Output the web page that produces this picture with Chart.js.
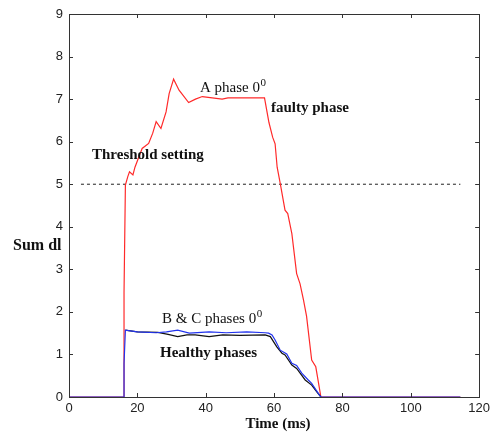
<!DOCTYPE html>
<html>
<head>
<meta charset="utf-8">
<script src="https://cdn.jsdelivr.net/npm/chart.js@4"></script>
<style>
  html, body { margin: 0; padding: 0; background: #fff; }
  #wrap { width: 494px; height: 434px; }
</style>
</head>
<body>
<div id="wrap"><canvas id="c" width="494" height="434"></canvas></div>
<script>
// ---- Data ----
const xTicks = [0, 20, 40, 60, 80, 100, 120];
const yTicks = [0, 1, 2, 3, 4, 5, 6, 7, 8, 9];

// A phase (faulty)
const timeA = [0, 16.1, 16.1, 16.5, 17.2, 17.7, 18.7, 19.3, 20.1, 21.4, 23.3, 24.5, 25.5, 26.9, 28.4, 29.3, 30.6, 32.2, 35.0, 37.0, 39.0, 41.9, 44.8, 46.5, 57.2, 58.5, 59.6, 60.3, 60.9, 61.8, 63.2, 64.0, 65.2, 66.6, 67.6, 68.6, 69.5, 71.0, 72.2, 73.7, 114.5];
const valA  = [0, 0, 2.45, 4.98, 5.18, 5.29, 5.22, 5.40, 5.57, 5.84, 5.96, 6.20, 6.47, 6.31, 6.70, 7.13, 7.47, 7.21, 6.92, 7.00, 7.06, 7.03, 7.00, 7.03, 7.03, 6.45, 6.10, 5.95, 5.40, 5.02, 4.39, 4.31, 3.84, 2.90, 2.66, 2.28, 1.90, 0.87, 0.71, 0, 0];

// B phase (healthy, blue)
const timeB = [0, 16.1, 16.1, 16.5, 20.0, 25.5, 28.5, 31.8, 35.2, 41.0, 46.0, 52.0, 57.4, 58.4, 59.4, 60.3, 61.8, 63.7, 65.2, 66.6, 68.1, 70.0, 71.0, 72.5, 73.7, 114.5];
const valB  = [0, 0, 0.78, 1.57, 1.53, 1.51, 1.53, 1.57, 1.50, 1.53, 1.51, 1.53, 1.51, 1.50, 1.46, 1.34, 1.10, 1.01, 0.79, 0.74, 0.56, 0.40, 0.32, 0.14, 0, 0];

// C phase (healthy, black)
const timeC = [16.5, 20.0, 26.0, 29.0, 31.8, 34.5, 36.9, 41.0, 45.0, 50.0, 57.4, 58.9, 60.8, 62.3, 63.2, 65.2, 66.6, 69.1, 71.0, 72.5, 73.7];
const valC  = [1.57, 1.53, 1.52, 1.47, 1.42, 1.46, 1.46, 1.42, 1.46, 1.45, 1.46, 1.42, 1.18, 1.03, 0.99, 0.75, 0.67, 0.40, 0.28, 0.12, 0];

// Threshold setting
const thresholdTime = [3.5, 114.5];
const thresholdVal  = [5, 5];

const toPts = (xs, ys) => xs.map((x, i) => ({ x: x, y: ys[i] }));

const SERIF = '"Liberation Serif", "Times New Roman", serif';
const SANS = '"Liberation Sans", Arial, sans-serif';

const boxPlugin = {
  id: 'boxPlugin',
  afterDraw(chart) {
    const ctx = chart.ctx;
    const a = chart.chartArea;
    const xs = chart.scales.x, ys = chart.scales.y;
    ctx.save();
    ctx.strokeStyle = '#333';
    ctx.lineWidth = 1;
    ctx.strokeRect(Math.round(a.left) + 0.5, Math.round(a.top) + 0.5, Math.round(a.right - a.left), Math.round(a.bottom - a.top));
    const tl = 4;
    ctx.beginPath();
    xTicks.forEach(v => {
      const px = Math.round(xs.getPixelForValue(v)) + 0.5;
      ctx.moveTo(px, a.bottom); ctx.lineTo(px, a.bottom - tl);
      ctx.moveTo(px, a.top); ctx.lineTo(px, a.top + tl);
    });
    yTicks.forEach(v => {
      const py = Math.round(ys.getPixelForValue(v)) + 0.5;
      ctx.moveTo(a.left, py); ctx.lineTo(a.left + tl, py);
      ctx.moveTo(a.right, py); ctx.lineTo(a.right - tl, py);
    });
    ctx.stroke();

    // Texts
    ctx.fillStyle = '#111';
    ctx.textBaseline = 'alphabetic';
    function sup(text, x, y, size, bold) {
      ctx.font = (bold ? 'bold ' : '') + size + 'px ' + SERIF;
      ctx.textAlign = 'left';
      ctx.fillText(text, x, y);
      const w = ctx.measureText(text).width;
      ctx.font = (bold ? 'bold ' : '') + Math.round(size * 0.7) + 'px ' + SERIF;
      ctx.fillText('0', x + w + 0.5, y - size * 0.38);
    }
    sup('A phase 0', 200, 92, 15, false);
    sup('B & C phases 0', 162, 323, 15, false);
    ctx.font = 'bold 15px ' + SERIF;
    ctx.textAlign = 'left';
    ctx.fillText('faulty phase', 271, 112);
    ctx.fillText('Threshold setting', 92, 159);
    ctx.fillText('Healthy phases', 160, 357);
    ctx.font = 'bold 16px ' + SERIF;
    ctx.fillText('Sum dl', 13, 250);
    ctx.font = 'bold 15px ' + SERIF;
    ctx.textAlign = 'center';
    ctx.fillText('Time (ms)', 278, 428);
    ctx.restore();
  }
};

new Chart(document.getElementById('c'), {
  type: 'line',
  data: {
    datasets: [
      { label: 'B phase', data: toPts(timeB, valB), borderColor: '#2233ee', borderWidth: 1.2, pointRadius: 0, tension: 0, fill: false },
      { label: 'C phase', data: toPts(timeC, valC), borderColor: '#111111', borderWidth: 1.2, pointRadius: 0, tension: 0, fill: false },
      { label: 'A phase', data: toPts(timeA, valA), borderColor: '#ff2a2a', borderWidth: 1.2, pointRadius: 0, tension: 0, fill: false },
      { label: 'Threshold', data: toPts(thresholdTime, thresholdVal), borderColor: '#222', borderWidth: 1, borderDash: [3, 3], pointRadius: 0, fill: false }
    ]
  },
  options: {
    responsive: false,
    animation: false,
    events: [],
    layout: { padding: { top: 14, right: 12, left: 0, bottom: 0 } },
    plugins: { legend: { display: false }, tooltip: { enabled: false } },
    scales: {
      x: {
        type: 'linear', min: 0, max: 120,
        afterBuildTicks: s => { s.ticks = xTicks.map(v => ({ value: v })); },
        afterFit: s => { s.height = 37; },
        grid: { display: true, drawOnChartArea: false, drawTicks: false, color: 'rgba(0,0,0,0)' },
        border: { display: false },
        ticks: { padding: 4, color: '#222', font: { family: SANS, size: 13 }, maxRotation: 0 }
      },
      y: {
        type: 'linear', min: 0, max: 9,
        afterBuildTicks: s => { s.ticks = yTicks.map(v => ({ value: v })); },
        afterFit: s => { s.width = 69; },
        grid: { display: true, drawOnChartArea: false, drawTicks: false, color: 'rgba(0,0,0,0)' },
        border: { display: false },
        ticks: { padding: 6, color: '#222', font: { family: SANS, size: 13 } }
      }
    }
  },
  plugins: [boxPlugin]
});
</script>
</body>
</html>
